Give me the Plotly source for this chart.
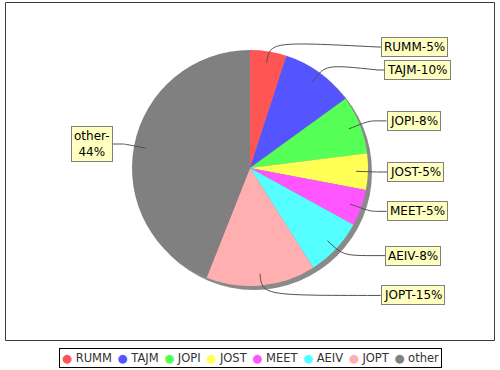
import math
import plotly.graph_objects as go

# ---------------- data ----------------
labels = ["RUMM", "TAJM", "JOPI", "JOST", "MEET", "AEIV", "JOPT", "other"]
values = [5, 10, 8, 5, 5, 8, 15, 44]
colors = ["#FF5555", "#5555FF", "#55FF55", "#FFFF55", "#FF55FF", "#55FFFF", "#FFAFAF", "#808080"]

# ---------------- layout constants (pixels) ----------------
W, H = 500, 370
CX, CY, R = 250, 168, 118
SHADOW = 4
LINK_FRAC = 0.9
ELBOW_R = 128
LABEL_GAP = 23
LABEL_TOP = 47
FONT = "DejaVu Sans"


def fx(x):
    return x / W


def fy(y):
    return 1 - y / H


fig = go.Figure()

# pie shadow
fig.add_trace(go.Pie(
    values=[1], marker=dict(colors=["#8a8a8a"], line=dict(width=0)),
    textinfo="none", hoverinfo="skip", sort=False, showlegend=False,
    domain=dict(x=[fx(CX - R + SHADOW), fx(CX + R + SHADOW)],
                y=[fy(CY + R + SHADOW), fy(CY - R + SHADOW)]),
))
# pie
fig.add_trace(go.Pie(
    labels=labels, values=values,
    marker=dict(colors=colors, line=dict(width=0)),
    textinfo="none", sort=False, direction="clockwise", rotation=0,
    showlegend=False,
    domain=dict(x=[fx(CX - R), fx(CX + R)], y=[fy(CY + R), fy(CY - R)]),
))

# ---------------- labels ----------------
total = float(sum(values))
recs = []
cum = 0.0
for lab, v in zip(labels, values):
    mid = (cum + v / 2.0) / total * 2 * math.pi
    cum += v
    dx, dy = math.sin(mid), -math.cos(mid)
    pct = round(v / total * 100)
    recs.append(dict(lab=lab, pct=pct, dx=dx, dy=dy,
                     right=dx >= 0, ny=CY + ELBOW_R * dy))

# simple distributor on each side
for side in (True, False):
    group = sorted([r for r in recs if r["right"] == side], key=lambda r: r["ny"])
    prev = None
    for r in group:
        y = max(r["ny"], LABEL_TOP)
        if prev is not None:
            y = max(y, prev + LABEL_GAP)
        r["ty"] = y
        prev = y

shapes = []
annotations = []
for r in recs:
    lx = CX + R * LINK_FRAC * r["dx"]
    ly = CY + R * LINK_FRAC * r["dy"]
    ex = CX + ELBOW_R * r["dx"]
    ey = CY + ELBOW_R * r["dy"]
    ty = r["ty"]
    if r["right"]:
        tx = CX + 130 + 7 * abs(r["dx"])
        ax = CX + ELBOW_R
        text = f"{r['lab']}-{r['pct']}%"
        xanchor = "left"
    else:
        tx = CX - 130 - 7 * abs(r["dx"])
        ax = CX - ELBOW_R
        text = f"{r['lab']}-<br>{r['pct']}%"
        xanchor = "right"
    path = (f"M {fx(tx)},{fy(ty)} L {fx(ax)},{fy(ty)} "
            f"C {fx(ex)},{fy(ey)} {fx(ex)},{fy(ey)} {fx(lx)},{fy(ly)}")
    shapes.append(dict(type="path", xref="paper", yref="paper", path=path,
                       line=dict(color="rgb(80,80,80)", width=1)))
    annotations.append(dict(
        x=fx(tx), y=fy(ty), xref="paper", yref="paper", text=text,
        xanchor=xanchor, yanchor="middle", showarrow=False,
        font=dict(family=FONT, size=12, color="black"),
        bgcolor="#FFFFC0", bordercolor="#808080", borderwidth=1, borderpad=2,
    ))

# plot-area outline
shapes.append(dict(type="rect", xref="paper", yref="paper",
                   x0=fx(5.5), x1=fx(494.5), y0=fy(340.5), y1=fy(2.5),
                   line=dict(color="#3c3c3c", width=1), layer="below"))

# ---------------- legend (custom, circle markers) ----------------
items = []
for lab, col in zip(labels, colors):
    items.append(f"<span style='color:{col};font-size:11.5px'>●</span>&nbsp;{lab}")
legend_text = "&nbsp;<span style='font-size:6px'>&nbsp;</span>".join(items)
annotations.append(dict(
    x=fx(250), y=fy(357.5), xref="paper", yref="paper", text=legend_text,
    xanchor="center", yanchor="middle", showarrow=False,
    font=dict(family=FONT, size=11.5, color="#333333"),
    bgcolor="white", bordercolor="black", borderwidth=1, borderpad=2,
))

fig.update_layout(
    width=W, height=H,
    margin=dict(l=0, r=0, t=0, b=0),
    paper_bgcolor="white", plot_bgcolor="white",
    shapes=shapes, annotations=annotations,
    showlegend=False,
)

fig.write_html("out.html",
               config={"displayModeBar": False},
               post_script="document.body.style.margin='0';document.body.style.padding='0';")
